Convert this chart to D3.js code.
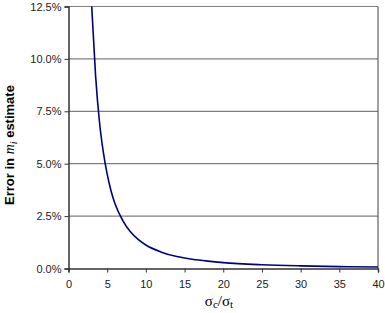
<!DOCTYPE html>
<html>
<head>
<meta charset="utf-8">
<script src="https://cdn.jsdelivr.net/npm/d3@7"></script>
<style>
  body { margin: 0; background: #fff; }
  svg text { font-family: "Liberation Sans", Arial, sans-serif; }
</style>
</head>
<body>
<svg id="chart" width="385" height="313"></svg>
<script>
// ratio sigma_c / sigma_t and error (in %)
const ratio = [3, 3.5, 4, 4.5, 5, 5.5, 6, 7, 8, 9, 10, 12, 14, 16, 18, 20, 25, 30, 35, 40];
const errorPct = [12.5, 9.2, 7.0, 5.55, 4.5, 3.7, 3.1, 2.3, 1.75, 1.39, 1.12, 0.78, 0.57, 0.44, 0.35, 0.28, 0.18, 0.125, 0.09, 0.07];
const xTicks = [0, 5, 10, 15, 20, 25, 30, 35, 40];
const yTicks = [0, 2.5, 5, 7.5, 10, 12.5];

const svg = d3.select("svg#chart");
const bounds = { minX: 68.5, maxX: 378, minY: 6.5, maxY: 268.5 };

const scaleX = d3.scaleLinear().domain([0, 40]).range([bounds.minX, bounds.maxX]);
const scaleY = d3.scaleLinear().domain([0, 12.5]).range([bounds.maxY, bounds.minY]);

// gridlines
svg.append("g")
    .selectAll("line")
    .data(yTicks.filter(d => d > 0))
    .join("line")
    .attr("x1", bounds.minX).attr("x2", bounds.maxX)
    .attr("y1", d => scaleY(d)).attr("y2", d => scaleY(d))
    .attr("stroke", "#808080").attr("stroke-width", 1.2);

// right border of plot area
svg.append("line")
    .attr("x1", bounds.maxX).attr("x2", bounds.maxX)
    .attr("y1", bounds.minY).attr("y2", bounds.maxY)
    .attr("stroke", "#404040").attr("stroke-width", 1);

// y axis
let yAxis = d3.axisLeft(scaleY).tickValues(yTicks).tickSizeOuter(0).tickSize(4).tickPadding(3)
    .tickFormat(d => d.toFixed(1) + "%");
let yG = svg.append("g").attr("transform", `translate(${bounds.minX} 0)`).call(yAxis);

// x axis
let xAxis = d3.axisBottom(scaleX).tickValues(xTicks).tickSizeOuter(0).tickSize(4).tickPadding(8);
let xG = svg.append("g").attr("transform", `translate(0 ${bounds.maxY})`).call(xAxis);

[yG, xG].forEach(g => {
    g.select(".domain").attr("stroke", "#333").attr("stroke-width", 1.5);
    g.selectAll(".tick line").attr("stroke", "#333");
    g.selectAll(".tick text").attr("fill", "#222").style("font-size", "11px");
});

// curve
let line = d3.line()
    .x((d, i) => scaleX(ratio[i]))
    .y(d => scaleY(d))
    .curve(d3.curveMonotoneX);
svg.append("path")
    .attr("d", line(errorPct))
    .attr("fill", "none")
    .attr("stroke", "#000080")
    .attr("stroke-width", 1.6);

// y title
let yt = svg.append("text")
    .attr("transform", "translate(14 145) rotate(-90)")
    .attr("text-anchor", "middle")
    .style("font-size", "13px").style("font-weight", "bold").attr("fill", "#000");
yt.append("tspan").text("Error in ");
yt.append("tspan").text("m").style("font-style", "italic").style("font-weight", "normal")
    .style("font-family", "'Liberation Serif', serif").style("font-size", "14px");
yt.append("tspan").text("i").style("font-style", "italic").style("font-weight", "normal")
    .style("font-family", "'Liberation Serif', serif").style("font-size", "10px").attr("dy", 3);
yt.append("tspan").text(" estimate").attr("dy", -3);

// x title
let xt = svg.append("text")
    .attr("x", 219).attr("y", 306)
    .attr("text-anchor", "middle")
    .style("font-family", "'Liberation Serif', serif")
    .style("font-size", "15px").attr("fill", "#000");
xt.append("tspan").text("σ");
xt.append("tspan").text("c").style("font-size", "11px").attr("dy", 2);
xt.append("tspan").text("/σ").attr("dy", -2);
xt.append("tspan").text("t").style("font-size", "11px").attr("dy", 2);
</script>
</body>
</html>
